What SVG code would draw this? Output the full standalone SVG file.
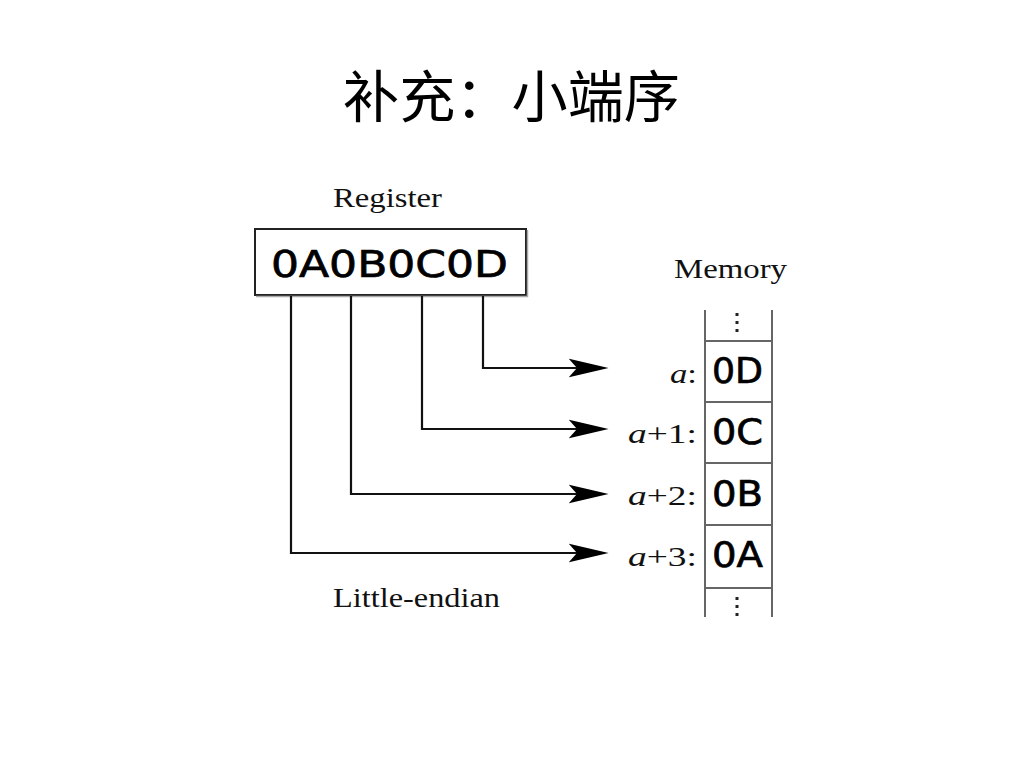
<svg xmlns="http://www.w3.org/2000/svg" width="1023" height="767" viewBox="0 0 1023 767">
<style>
.title{font-family:"Noto Sans CJK SC","Noto Sans CJK JP",sans-serif;font-size:56px;fill:#000}
.lbl{font-family:"Liberation Serif","DejaVu Serif",serif;font-size:28px;fill:#111}
.mono{font-family:"DejaVu Sans","Noto Sans",sans-serif;fill:#000;stroke:#000;stroke-width:0.7}
.conn{fill:none;stroke:#111;stroke-width:2.2}
.col{stroke:#666;stroke-width:2;fill:none}
</style>
<defs>
<marker id="arr" markerUnits="userSpaceOnUse" markerWidth="40" markerHeight="22" viewBox="0 0 38 20" refX="8" refY="10" orient="auto">
<path d="M0,1 L38,10 L0,19 L8,10 z" fill="#000"/>
</marker>
</defs>
<rect width="1023" height="767" fill="#fff"/>
<text class="title" x="343" y="117" textLength="337" lengthAdjust="spacingAndGlyphs">补充：小端序</text>

<g id="register">
<text class="lbl" x="333" y="207" textLength="109" lengthAdjust="spacingAndGlyphs">Register</text>
<rect x="255" y="229" width="271" height="66" fill="#fff" stroke="#222" stroke-width="2"/>
<line x1="527.5" y1="230" x2="527.5" y2="297" stroke="#aaa" stroke-width="1.5"/>
<line x1="256" y1="296.5" x2="528" y2="296.5" stroke="#aaa" stroke-width="1.5"/>
<text class="mono" x="271" y="277" font-size="38" textLength="237" lengthAdjust="spacingAndGlyphs">0A0B0C0D</text>
</g>

<g id="connectors">
<path class="conn" d="M483,296 V368 H577" marker-end="url(#arr)"/>
<path class="conn" d="M422,296 V429 H577" marker-end="url(#arr)"/>
<path class="conn" d="M351,296 V494 H577" marker-end="url(#arr)"/>
<path class="conn" d="M291,296 V553 H577" marker-end="url(#arr)"/>
</g>

<g id="memory">
<text class="lbl" x="674" y="278" textLength="113" lengthAdjust="spacingAndGlyphs">Memory</text>
<line class="col" x1="705" y1="310" x2="705" y2="617"/>
<line class="col" x1="772" y1="310" x2="772" y2="617"/>
<line class="col" x1="705" y1="341" x2="772" y2="341"/>
<line class="col" x1="705" y1="402" x2="772" y2="402"/>
<line class="col" x1="705" y1="463" x2="772" y2="463"/>
<line class="col" x1="705" y1="525" x2="772" y2="525"/>
<line class="col" x1="705" y1="588" x2="772" y2="588"/>
<g fill="#222">
<rect x="735.5" y="313" width="3" height="3"/>
<rect x="735.5" y="321" width="3" height="3"/>
<rect x="735.5" y="329" width="3" height="3"/>
<rect x="735.5" y="597" width="3" height="3"/>
<rect x="735.5" y="605" width="3" height="3"/>
<rect x="735.5" y="613" width="3" height="3"/>
</g>
<text class="mono" x="712" y="383" font-size="36" textLength="51" lengthAdjust="spacingAndGlyphs">0D</text>
<text class="mono" x="712" y="444" font-size="36" textLength="51" lengthAdjust="spacingAndGlyphs">0C</text>
<text class="mono" x="712" y="506" font-size="36" textLength="51" lengthAdjust="spacingAndGlyphs">0B</text>
<text class="mono" x="712" y="567" font-size="36" textLength="51" lengthAdjust="spacingAndGlyphs">0A</text>
</g>

<g id="addresses">
<text class="lbl" x="697" y="383" text-anchor="end" font-size="31" textLength="27" lengthAdjust="spacingAndGlyphs"><tspan font-style="italic">a</tspan>:</text>
<text class="lbl" x="697" y="443" text-anchor="end" font-size="31" textLength="69" lengthAdjust="spacingAndGlyphs"><tspan font-style="italic">a</tspan>+1:</text>
<text class="lbl" x="697" y="505" text-anchor="end" font-size="31" textLength="69" lengthAdjust="spacingAndGlyphs"><tspan font-style="italic">a</tspan>+2:</text>
<text class="lbl" x="697" y="566" text-anchor="end" font-size="31" textLength="69" lengthAdjust="spacingAndGlyphs"><tspan font-style="italic">a</tspan>+3:</text>
</g>

<text class="lbl" x="333" y="607" textLength="167" lengthAdjust="spacingAndGlyphs">Little-endian</text>
</svg>
